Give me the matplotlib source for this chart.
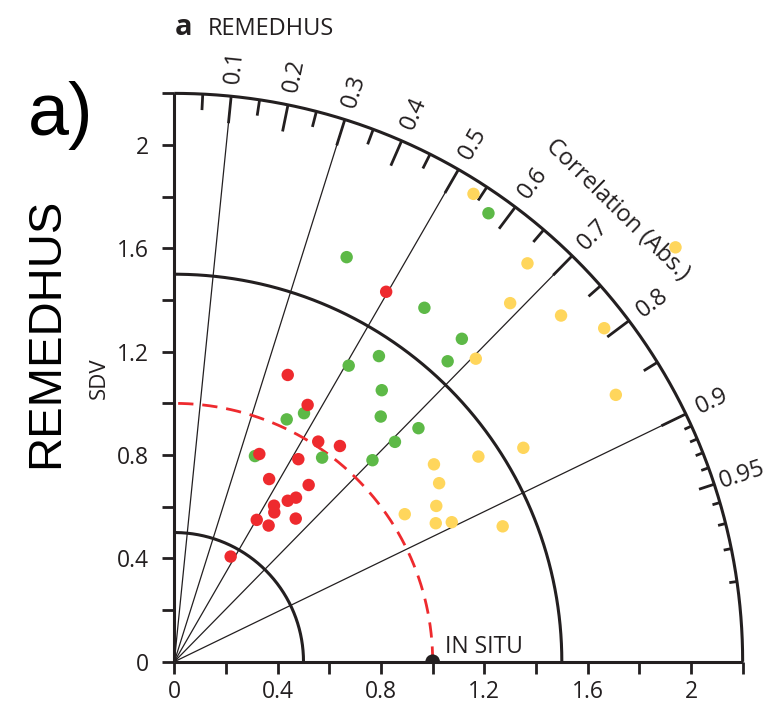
import numpy as np
import matplotlib
matplotlib.use('Agg')
import matplotlib.pyplot as plt

# ---- data (x = SDV*corr, y = SDV*sqrt(1-corr^2)) ----
red_x = [0.439, 0.516, 0.557, 0.641, 0.329, 0.480, 0.367, 0.520, 0.471, 0.439,
         0.386, 0.387, 0.319, 0.470, 0.365, 0.218, 0.820]
red_y = [1.110, 0.994, 0.852, 0.835, 0.804, 0.784, 0.707, 0.684, 0.635, 0.623,
         0.604, 0.578, 0.549, 0.554, 0.527, 0.407, 1.432]

green_x = [0.667, 0.968, 1.113, 1.058, 0.792, 0.675, 0.803, 0.799, 0.945, 0.854,
           0.767, 0.572, 0.435, 0.502, 0.312, 1.216]
green_y = [1.566, 1.370, 1.250, 1.163, 1.183, 1.146, 1.051, 0.949, 0.904, 0.851,
           0.780, 0.790, 0.938, 0.962, 0.796, 1.736]

yellow_x = [1.158, 1.940, 1.367, 1.300, 1.497, 1.664, 1.167, 1.709, 1.351, 1.177,
            1.005, 1.025, 1.014, 0.892, 1.012, 1.074, 1.271]
yellow_y = [1.811, 1.604, 1.542, 1.388, 1.340, 1.291, 1.173, 1.033, 0.828, 0.794,
            0.764, 0.691, 0.603, 0.571, 0.536, 0.540, 0.524]

ref_sdv = 1.0
max_sdv = 2.2
sdv_arcs = [0.5, 1.5]
corr_rays = [0.1, 0.3, 0.5, 0.7, 0.9]
corr_labels = [0.1, 0.2, 0.3, 0.4, 0.5, 0.6, 0.7, 0.8, 0.9, 0.95]
sdv_ticks = np.round(np.arange(0, 2.21, 0.2), 2)
sdv_labels = ['0', '', '0.4', '', '0.8', '', '1.2', '', '1.6', '', '2', '']

RED = '#EE2A2E'
GREEN = '#5DB947'
YELLOW = '#FFD65C'
INK = '#231F20'
FONT = 'Open Sans'
FS = 16.5

plt.rcParams['font.family'] = [FONT, 'DejaVu Sans']

fig = plt.figure(figsize=(7.68, 7.12), dpi=100)
ax = fig.add_axes([0.2270, 0.07065, 0.7400, 0.7982])
ax.set_xlim(0, max_sdv)
ax.set_ylim(0, max_sdv)

for s in ['top', 'right']:
    ax.spines[s].set_visible(False)
for s in ['left', 'bottom']:
    ax.spines[s].set_linewidth(2.2)
    ax.spines[s].set_color(INK)
    ax.spines[s].set_capstyle('butt')

ax.set_xticks(sdv_ticks)
ax.set_xticklabels(sdv_labels)
ax.set_yticks(sdv_ticks)
ax.set_yticklabels(sdv_labels)
ax.tick_params(direction='out', length=8.5, width=2.0, color=INK,
               labelsize=FS, labelcolor=INK)
ax.tick_params(axis='x', pad=5)
ax.tick_params(axis='y', pad=10)

th = np.linspace(0, np.pi / 2, 400)
# outer arc
ax.plot(max_sdv * np.cos(th), max_sdv * np.sin(th), color=INK, lw=2.2,
        clip_on=False, solid_capstyle='butt', zorder=3)
# sdv arcs
for r in sdv_arcs:
    ax.plot(r * np.cos(th), r * np.sin(th), color=INK, lw=2.2,
            solid_capstyle='butt', zorder=2)
# reference dashed arc
ax.plot(ref_sdv * np.cos(th), ref_sdv * np.sin(th), color=RED, lw=2.0,
        linestyle=(0, (5.5, 3.2)), zorder=2)

# correlation rays
for c in corr_rays:
    a = np.arccos(c)
    ax.plot([0, max_sdv * np.cos(a)], [0, max_sdv * np.sin(a)], color=INK,
            lw=0.9, zorder=1.5)

# ticks on outer arc
def arc_tick(c, L):
    a = np.arccos(c)
    ax.plot([(max_sdv - L) * np.cos(a), max_sdv * np.cos(a)],
            [(max_sdv - L) * np.sin(a), max_sdv * np.sin(a)],
            color=INK, lw=2.0, clip_on=False, solid_capstyle='butt', zorder=3)

for c in np.arange(0.1, 0.91, 0.1):
    arc_tick(c, 0.105)
for c in np.arange(0.05, 0.90, 0.1):
    arc_tick(c, 0.062)
arc_tick(0.95, 0.062)
for c in [0.91, 0.92, 0.93, 0.94, 0.96, 0.97, 0.98, 0.99]:
    arc_tick(c, 0.03)

# correlation labels
for c in corr_labels:
    a = np.arccos(c)
    r = 2.315
    ax.text(r * np.cos(a), r * np.sin(a), f'{c:g}', rotation=np.degrees(a),
            ha='center', va='center', rotation_mode='anchor', fontsize=17,
            color=INK, clip_on=False)

a = np.radians(45.6)
ax.text(2.45 * np.cos(a), 2.45 * np.sin(a), 'Correlation (Abs.)',
        rotation=np.degrees(a) - 90, ha='center', va='center',
        rotation_mode='anchor', fontsize=17, color=INK, clip_on=False)

# points
ax.scatter(green_x, green_y, s=80, color=GREEN, edgecolors='none', zorder=4,
           clip_on=False)
ax.scatter(yellow_x, yellow_y, s=80, color=YELLOW, edgecolors='none', zorder=4,
           clip_on=False)
ax.scatter(red_x, red_y, s=80, color=RED, edgecolors='none', zorder=4.5,
           clip_on=False)

# reference point
ax.scatter([ref_sdv], [0], s=110, color=INK, edgecolors='none', zorder=5)
ax.text(1.048, 0.034, 'IN SITU', fontsize=16.5, color=INK, ha='left',
        va='baseline')

# texts around
fig.text(175 / 768, 1 - 35 / 712, 'a', fontsize=21, fontweight='bold',
         color=INK, ha='left', va='baseline')
fig.text(208 / 768, 1 - 35 / 712, 'REMEDHUS', fontsize=17, color=INK,
         ha='left', va='baseline')
fig.text(28 / 768, 1 - 135 / 712, 'a)', fontsize=53, color='black',
         family='Liberation Sans', ha='left', va='baseline')
fig.text(46.5 / 768, 1 - 332.5 / 712, 'REMEDHUS', fontsize=34, color='black',
         family='Liberation Sans', rotation=90, ha='center', va='center')
fig.text(99 / 768, 1 - 378 / 712, 'SDV', fontsize=16, color=INK,
         rotation=90, ha='center', va='center')

fig.savefig('out.png', dpi=100)
